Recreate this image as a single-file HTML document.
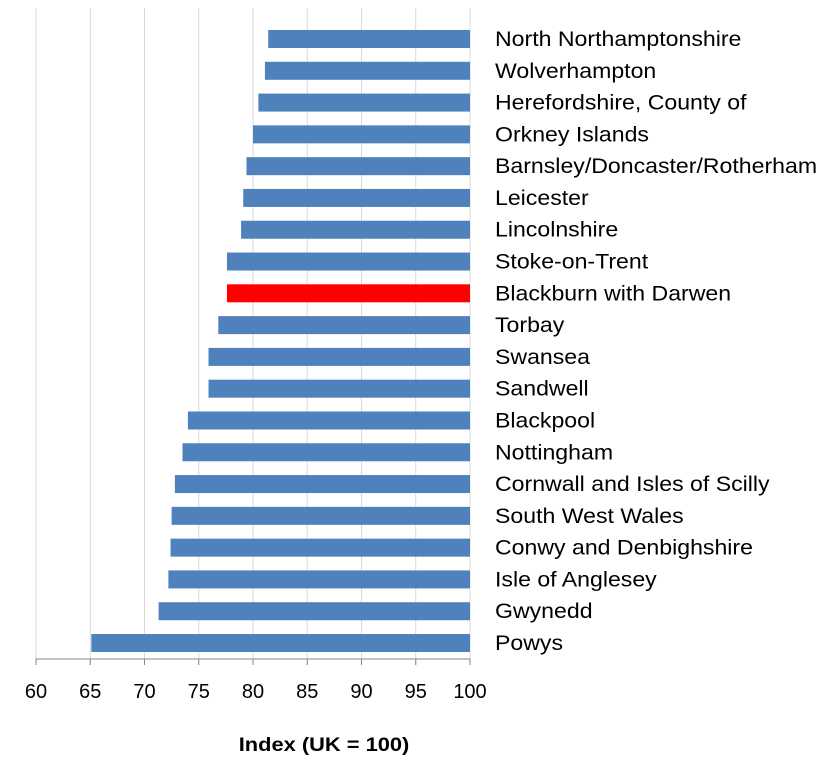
<!DOCTYPE html>
<html><head><meta charset="utf-8"><style>
body{margin:0;background:#fff;}
svg text{font-family:"Liberation Sans",Calibri,sans-serif;}
</style></head><body>
<svg id="chart" width="832" height="769" xmlns="http://www.w3.org/2000/svg"></svg>
<script>
const categories=["North Northamptonshire","Wolverhampton","Herefordshire, County of","Orkney Islands","Barnsley/Doncaster/Rotherham","Leicester","Lincolnshire","Stoke-on-Trent","Blackburn with Darwen","Torbay","Swansea","Sandwell","Blackpool","Nottingham","Cornwall and Isles of Scilly","South West Wales","Conwy and Denbighshire","Isle of Anglesey","Gwynedd","Powys"];
const values=[81.4,81.1,80.5,80.0,79.4,79.1,78.9,77.6,77.6,76.8,75.9,75.9,74.0,73.5,72.8,72.5,72.4,72.2,71.3,65.1];
const highlighted=["Blackburn with Darwen"];
const ticks=[60,65,70,75,80,85,90,95,100];
const NS="http://www.w3.org/2000/svg";
const svg=document.getElementById('chart');
const x=v=>36+(v-60)*(434/40);
const y=i=>39+i*31.79;
function mk(t,a){const e=document.createElementNS(NS,t);for(const k in a)e.setAttribute(k,a[k]);svg.appendChild(e);return e;}
ticks.forEach(t=>{
 const g=mk('line',{x1:x(t),x2:x(t),y1:8,y2:665,stroke:'#d9d9d9','stroke-width':1});
 
 
 const tk=mk('line',{x1:x(t),x2:x(t),y1:659,y2:665,stroke:'#868686'});
 
 
 const l=mk('text',{x:x(t),y:698,'text-anchor':'middle','font-size':20,fill:'#000'});
 l.textContent=t;
 
 
});
const ax=mk('line',{x1:36,x2:470,y1:659,y2:659,stroke:'#868686'});


categories.forEach((c,i)=>{
 const r=mk('rect',{x:x(values[i]),y:y(i)-9,width:x(100)-x(values[i]),height:18,fill:highlighted.includes(c)?'#ff0000':'#4f81bd'});
 
 
 const t=mk('text',{x:0,y:0,'font-size':21,fill:'#000',transform:'translate(495,'+(y(i)+7)+') scale(1.1,1)'});
 t.textContent=c;
 
 
});
const tt=mk('text',{x:0,y:0,'text-anchor':'middle','font-size':19,'font-weight':'bold',fill:'#000',transform:'translate(324,751) scale(1.15,1)'});
tt.textContent='Index (UK = 100)';


</script>
</body></html>
